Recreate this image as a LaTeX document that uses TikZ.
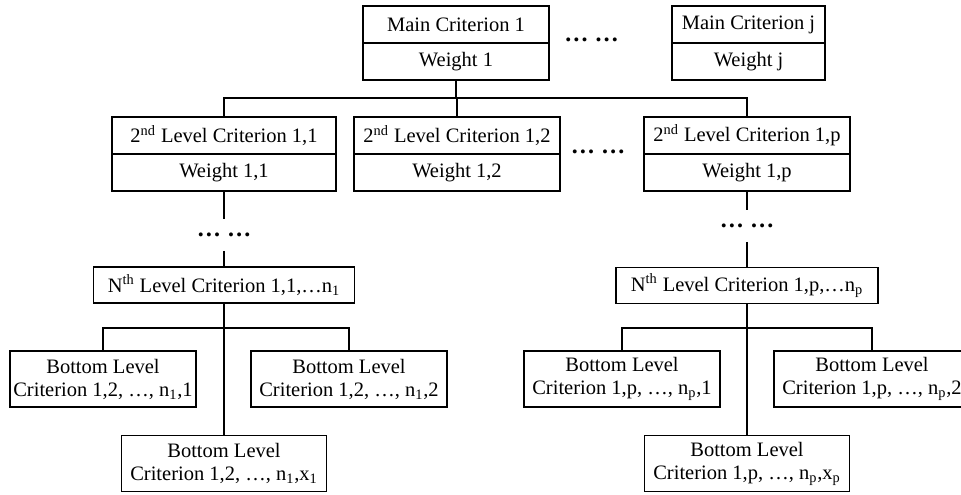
\documentclass[tikz,border=0pt]{standalone}
\usepackage{fontspec}
\setmainfont{Liberation Serif}
\usetikzlibrary{calc}

\newcommand{\critfont}{\fontsize{12.3}{13.8}\selectfont}
\newcommand{\dotfont}{\fontsize{14.5}{14.5}\selectfont\bfseries}

\tikzset{
  crit/.style={draw, line width=1.1pt, inner sep=0pt, align=center,
    font=\critfont, minimum width=#1*0.6pt, minimum height=37*0.6pt},
  leaf/.style={crit=#1, minimum height=56*0.6pt},
  moredots/.style={inner sep=0pt, minimum height=31*0.6pt, font=\dotfont},
  link/.style={line width=1.1pt},
}

\begin{document}
\begin{tikzpicture}[x=0.6pt, y=-0.6pt]
  \useasboundingbox (0,0) rectangle (961,495);

  % main criteria
  \node[crit=186] (m1) at (456,24.5) {Main Criterion 1};
  \node[crit=186] (m1w) at (456,61.5) {Weight 1};
  \node[moredots] (mdots) at (591.5,40) {…\ …};
  \node[crit=153] (mj) at (748.5,24.5) {Main Criterion j};
  \node[crit=153] (mjw) at (748.5,61.5) {Weight j};

  % second level
  \node[crit=224] (a) at (224,135.5) {2\textsuperscript{nd} Level Criterion 1,1};
  \node[crit=224] (aw) at (224,172.5) {Weight 1,1};
  \node[crit=206] (b) at (457,135.5) {2\textsuperscript{nd} Level Criterion 1,2};
  \node[crit=206] (bw) at (457,172.5) {Weight 1,2};
  \node[moredots] (bdots) at (598,152) {…\ …};
  \node[crit=206] (c) at (747,135.5) {2\textsuperscript{nd} Level Criterion 1,p};
  \node[crit=206] (cw) at (747,172.5) {Weight 1,p};

  \coordinate (hub) at (456,98);
  \draw[link] (m1w) -- (hub);
  \draw[link] (a.north) |- (hub) -| (c.north);
  \draw[link] (b.north) -- (b.north |- hub);

  % branch 1,1
  \node[moredots] (adots) at (224,235) {…\ …};
  \node[crit=261, minimum height=36*0.6pt] (an) at (224,285) {N\textsuperscript{th} Level Criterion 1,1,…n\textsubscript{1}};
  \node[leaf=186] (a1) at (103,379) {Bottom Level\\Criterion 1,2, …, n\textsubscript{1},1};
  \node[leaf=196] (a2) at (349,379) {Bottom Level\\Criterion 1,2, …, n\textsubscript{1},2};
  \node[leaf=205] (ax) at (224,463.5) {Bottom Level\\Criterion 1,2, …, n\textsubscript{1},x\textsubscript{1}};
  \coordinate (abus) at (224,328);
  \draw[link] (aw) -- (adots);
  \draw[link] (adots) -- (an);
  \draw[link] (an) -- (ax);
  \draw[link] (a1.north) |- (abus) -| (a2.north);

  % branch 1,p
  \node[moredots] (cdots) at (747,226) {…\ …};
  \node[crit=262, minimum height=36*0.6pt] (cn) at (747,285.5) {N\textsuperscript{th} Level Criterion 1,p,…n\textsubscript{p}};
  \node[leaf=196] (c1) at (622,379) {Bottom Level\\Criterion 1,p, …, n\textsubscript{p},1};
  \node[leaf=196] (c2) at (872,379) {Bottom Level\\Criterion 1,p, …, n\textsubscript{p},2};
  \node[leaf=205] (cx) at (747,463.5) {Bottom Level\\Criterion 1,p, …, n\textsubscript{p},x\textsubscript{p}};
  \coordinate (cbus) at (747,328);
  \draw[link] (cw) -- (cdots);
  \draw[link] (cdots) -- (cn);
  \draw[link] (cn) -- (cx);
  \draw[link] (c1.north) |- (cbus) -| (c2.north);
\end{tikzpicture}
\end{document}
